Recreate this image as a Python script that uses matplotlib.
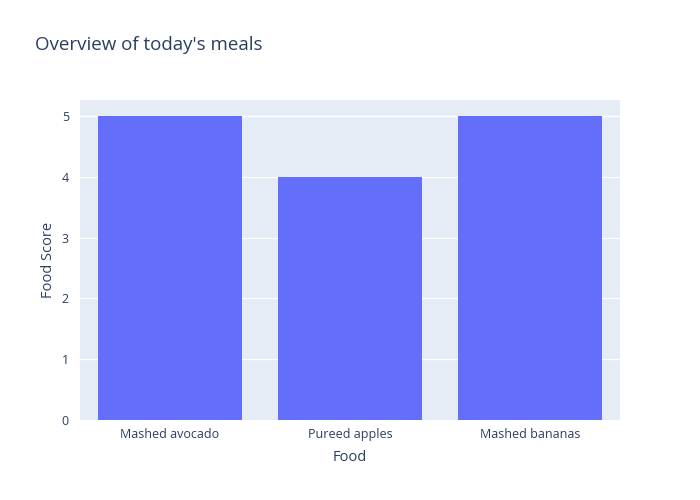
import matplotlib.pyplot as plt

plt.rcParams['font.family'] = ['Open Sans', 'DejaVu Sans']

foods = ["Mashed avocado", "Pureed apples", "Mashed bananas"]
scores = [5, 4, 5]
yticks = [0, 1, 2, 3, 4, 5]

text_col = "#2a3f5f"

fig = plt.figure(figsize=(7, 5), dpi=100)
ax = fig.add_axes([80 / 700, 80 / 500, 540 / 700, 320 / 500])
ax.set_facecolor("#E5ECF6")

x = range(len(foods))
ax.bar(x, scores, width=0.8, color="#636EFA", zorder=2)

ax.set_xlim(-0.5, len(foods) - 0.5)
ax.set_ylim(0, 5.263)
ax.set_xticks(list(x))
ax.set_xticklabels(foods)
ax.set_yticks(yticks)
ax.grid(axis="y", color="white", linewidth=1, zorder=1)
ax.set_axisbelow(True)
for s in ax.spines.values():
    s.set_visible(False)
ax.tick_params(length=0, labelsize=9, colors=text_col)
ax.tick_params(axis="y", pad=8)
ax.tick_params(axis="x", pad=6)

ax.set_xlabel("Food", fontsize=10.5, color=text_col, labelpad=6.5)
ax.set_ylabel("Food Score", fontsize=10.5, color=text_col, labelpad=4)

fig.text(35 / 700, 1 - 45 / 500, "Overview of today's meals", fontsize=13.5,
         color=text_col, va="center", ha="left")

fig.savefig("out.png", dpi=100)
